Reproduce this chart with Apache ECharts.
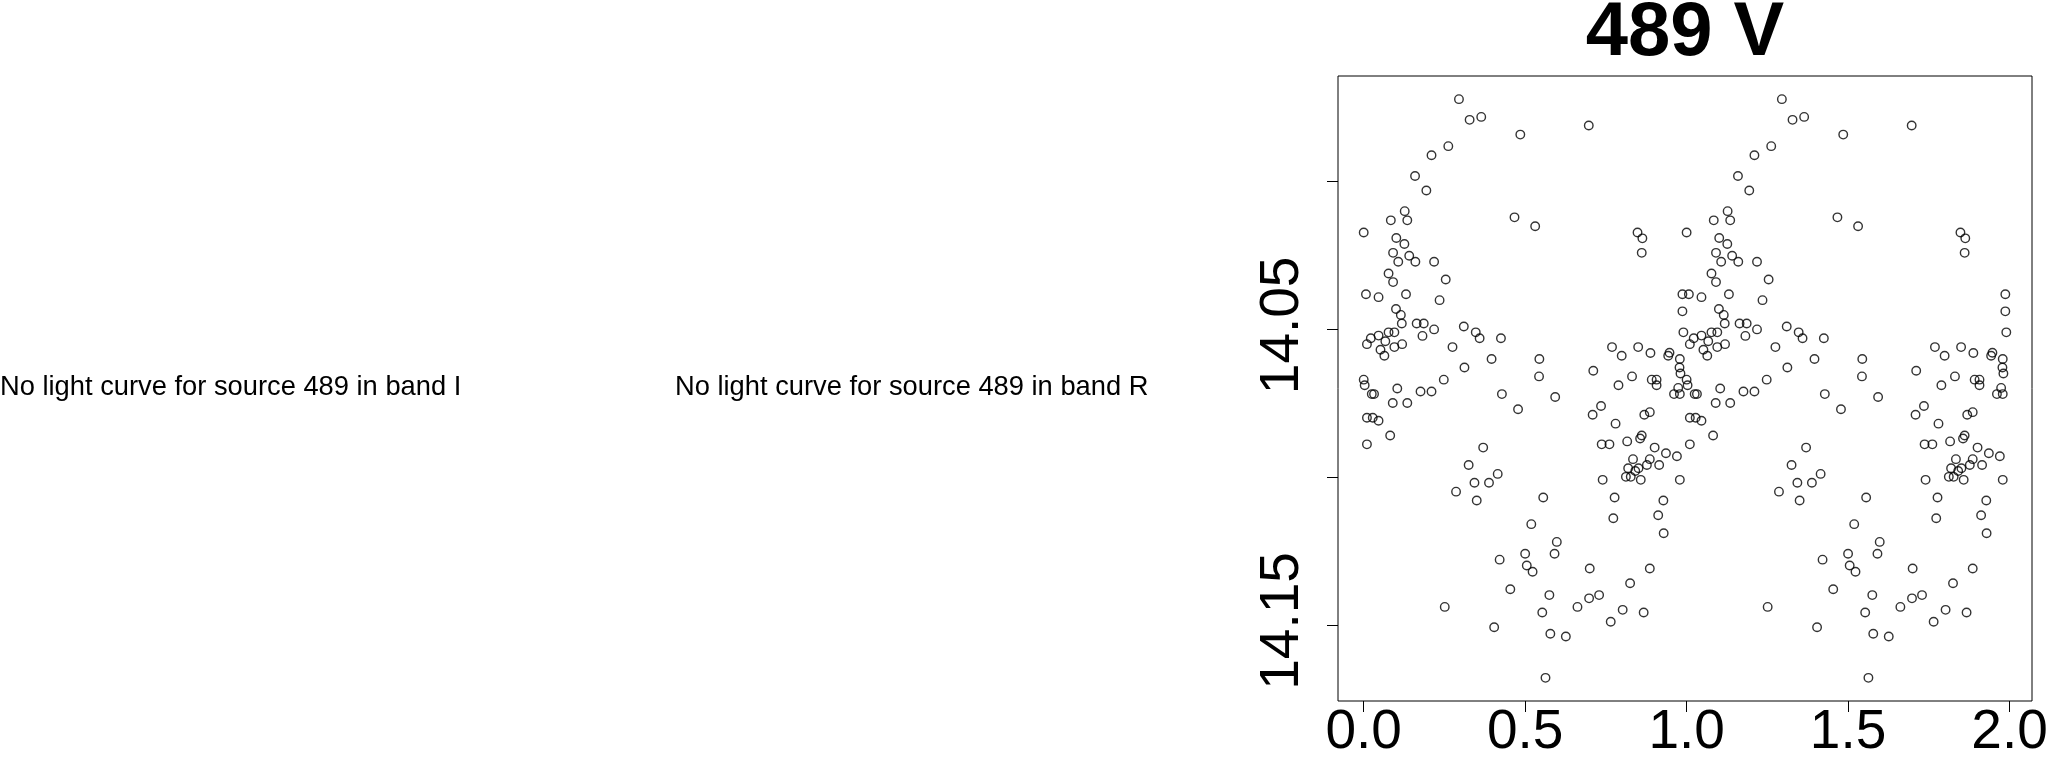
<!DOCTYPE html>
<html><head><meta charset="utf-8">
<script src="https://cdn.jsdelivr.net/npm/echarts@6/dist/echarts.min.js"></script>
<style>html,body{margin:0;padding:0;background:#fff}#c{width:2050px;height:758px}</style>
</head><body><div id="c"></div>
<script>
const titleText = '489 V';
const missingI = 'No light curve for source 489 in band I';
const missingR = 'No light curve for source 489 in band R';

// phase-folded light curve, band V (one cycle; plotted twice, phase and phase+1)
const phase = [
0.295,0.328,0.364,0.485,0.697,0.262,0.210,0.159,0.194,0.127,
0.084,0.135,0.467,0.531,0.000,0.848,0.863,0.861,0.101,0.126,
0.091,0.141,0.107,0.160,0.218,0.077,0.091,0.254,0.007,0.046,
0.131,0.987,0.235,0.100,0.987,0.115,0.118,0.164,0.186,0.310,
0.218,0.077,0.095,0.347,0.990,0.046,0.182,0.022,0.359,0.425,
0.067,0.010,0.119,0.095,0.275,0.769,0.850,0.052,0.888,0.947,
0.943,0.064,0.799,0.396,0.544,0.979,0.312,0.978,0.711,0.981,
0.543,0.831,0.892,0.907,0.907,0.789,0.000,0.003,0.248,0.104,
0.974,
0.025,0.032,0.176,0.210,0.428,0.593,0.961,0.979,0.090,0.135,
0.478,0.010,0.028,0.046,0.082,0.010,0.370,0.325,0.343,0.388,
0.415,0.286,0.350,0.556,0.519,0.598,0.500,0.591,0.421,0.505,
0.523,0.454,0.575,0.251,0.553,0.404,0.578,0.626,0.563,0.700,
0.662,0.698,0.729,0.765,0.802,0.867,0.825,0.886,0.773,0.777,
0.928,0.912,0.929,0.740,0.812,0.827,0.858,0.819,0.834,0.841,
0.851,0.877,0.886,0.915,0.936,0.970,0.901,0.979,0.737,0.761,
0.816,0.856,0.861,0.780,0.709,0.735,0.869,0.886
];
const mag = [
13.9721,13.9791,13.9781,13.9841,13.9810,13.9880,13.9911,13.9981,14.0030,14.0100,
14.0131,14.0131,14.0121,14.0151,14.0172,14.0172,14.0192,14.0241,14.0191,14.0211,
14.0241,14.0251,14.0271,14.0271,14.0271,14.0311,14.0340,14.0331,14.0381,14.0391,
14.0381,14.0381,14.0401,14.0431,14.0439,14.0451,14.0480,14.0480,14.0480,14.0490,
14.0500,14.0510,14.0510,14.0510,14.0510,14.0521,14.0522,14.0530,14.0530,14.0530,
14.0540,14.0550,14.0550,14.0560,14.0560,14.0560,14.0560,14.0569,14.0580,14.0579,
14.0589,14.0589,14.0589,14.0600,14.0600,14.0600,14.0629,14.0629,14.0640,14.0649,
14.0659,14.0659,14.0670,14.0670,14.0689,14.0689,14.0670,14.0689,14.0670,14.0700,
14.0698,
14.0719,14.0719,14.0710,14.0710,14.0719,14.0729,14.0719,14.0719,14.0749,14.0749,
14.0770,14.0799,14.0799,14.0809,14.0859,14.0889,14.0900,14.0959,14.1019,14.1019,
14.0989,14.1049,14.1079,14.1069,14.1159,14.1219,14.1259,14.1259,14.1279,14.1299,
14.1320,14.1379,14.1399,14.1439,14.1458,14.1508,14.1530,14.1539,14.1679,14.1309,
14.1439,14.1410,14.1399,14.1489,14.1449,14.1458,14.1359,14.1309,14.1139,14.1069,
14.1079,14.1129,14.1190,14.1009,14.0999,14.0999,14.1009,14.0970,14.0939,14.0979,
14.0970,14.0959,14.0939,14.0959,14.0919,14.0929,14.0900,14.1009,14.0889,14.0889,
14.0879,14.0869,14.0859,14.0819,14.0789,14.0759,14.0789,14.0780
];
const xTicks = [0, 0.5, 1, 1.5, 2];
const xTickLabels = [0, 0.5, 1, 1.5, 2];
const yTicks = [14.00, 14.05, 14.10, 14.15];
const yTickLabels = [14.05, 14.15];

const FONT = '"Liberation Sans", Arial, Helvetica, sans-serif';

const points = [];
for (let i = 0; i < phase.length; i++) points.push([phase[i], mag[i]]);
for (let i = 0; i < phase.length; i++) points.push([phase[i] + 1, mag[i]]);

function padRange(a) {
  const lo = Math.min.apply(null, a), hi = Math.max.apply(null, a), d = hi - lo;
  return [lo - 0.04 * d, hi + 0.04 * d];
}
const xr = padRange(points.map(p => p[0]));
const yr = padRange(points.map(p => p[1]));

const chart = echarts.init(document.getElementById('c'), null, {renderer: 'canvas'});
chart.setOption({
  animation: false,
  backgroundColor: '#fff',
  title: {
    text: titleText, left: 1685, top: 4, textAlign: 'center', padding: 0,
    textStyle: {fontFamily: FONT, fontSize: 76, fontWeight: 'bold', color: '#000', lineHeight: 60}
  },
  grid: {
    left: 1338, top: 76, right: 18, bottom: 57,
    show: true, borderColor: '#000', borderWidth: 1, backgroundColor: 'rgba(0,0,0,0)',
    containLabel: false, outerBoundsMode: 'none'
  },
  xAxis: {
    type: 'value', min: xr[0], max: xr[1],
    splitLine: {show: false},
    axisLine: {show: false, onZero: false},
    axisTick: {show: true, inside: false, length: 11, customValues: xTicks, lineStyle: {color: '#000', width: 1}},
    axisLabel: {
      customValues: xTickLabels, formatter: v => Number(v).toFixed(1),
      margin: 5, fontSize: 55, lineHeight: 54, fontFamily: FONT, color: '#000'
    }
  },
  yAxis: {
    type: 'value', inverse: true, min: yr[0], max: yr[1],
    splitLine: {show: false},
    axisLine: {show: false, onZero: false},
    axisTick: {show: true, inside: false, length: 11, customValues: yTicks, lineStyle: {color: '#000', width: 1}},
    axisLabel: {
      customValues: yTickLabels, formatter: v => Number(v).toFixed(2), rotate: 90,
      margin: 28, fontSize: 55, lineHeight: 54, fontFamily: FONT, color: '#000',
      padding: [0, 0, 0, 8]
    }
  },
  series: [{
    type: 'scatter', data: points, symbol: 'circle', symbolSize: 8.5,
    itemStyle: {color: 'rgba(0,0,0,0)', borderColor: '#000', borderWidth: 1.4},
    emphasis: {disabled: true}
  }],
  graphic: [
    {type: 'text', x: 0, y: 387, style: {text: missingI, font: '27.3px ' + FONT, fill: '#000', textAlign: 'left', textVerticalAlign: 'middle'}},
    {type: 'text', x: 675, y: 387, style: {text: missingR, font: '27.3px ' + FONT, fill: '#000', textAlign: 'left', textVerticalAlign: 'middle'}}
  ]
});
</script>
</body></html>
